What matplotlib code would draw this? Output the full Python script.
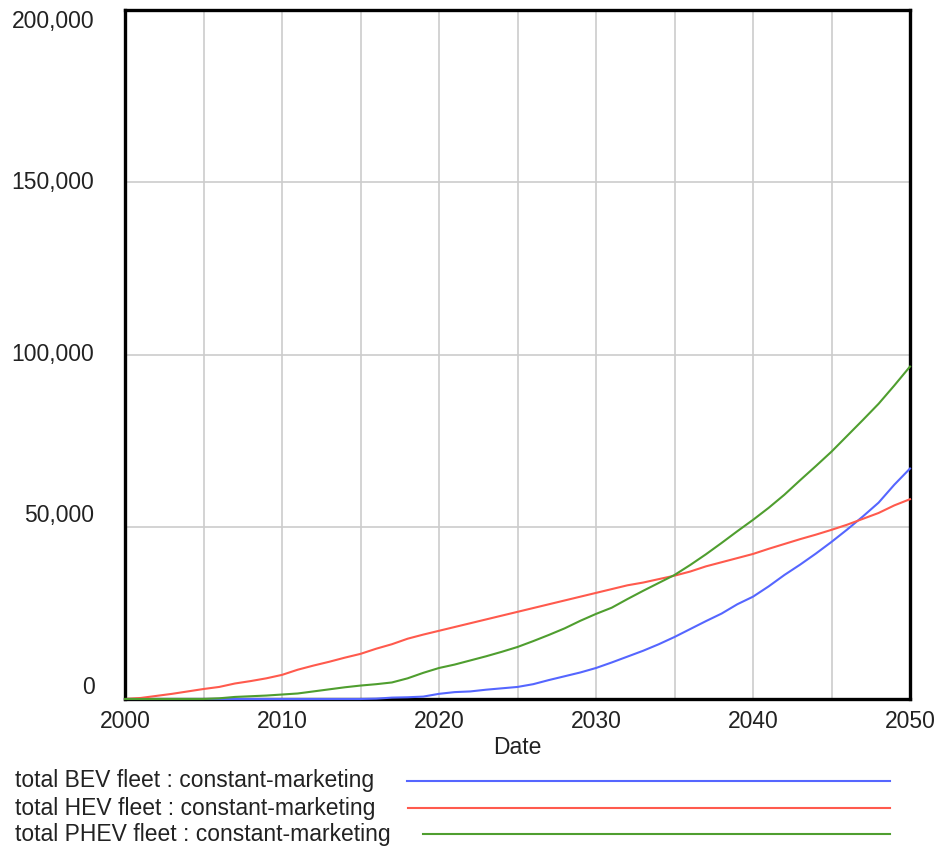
import matplotlib
matplotlib.use("Agg")
import matplotlib.pyplot as plt
from matplotlib.lines import Line2D

plt.rcParams["font.family"] = ["Liberation Sans", "DejaVu Sans"]

years = list(range(2000, 2051))

bev_fleet = [0, 0, 0, 0, 0, 0, 0, 0, 0, 0,
             0, 0, 0, 0, 0, 0, 100, 400, 500, 700,
             1500, 2000, 2200, 2700, 3100, 3500, 4300, 5500, 6600, 7700,
             9000, 10600, 12300, 14000, 15900, 18000, 20300, 22600, 24800, 27500,
             29700, 32700, 36000, 39000, 42200, 45600, 49200, 53000, 57000, 62200,
             66900]

hev_fleet = [0, 300, 900, 1500, 2200, 2900, 3500, 4500, 5200, 6000,
             7000, 8500, 9700, 10800, 12000, 13100, 14600, 15900, 17500, 18700,
             19800, 20900, 22000, 23100, 24200, 25300, 26400, 27500, 28600, 29700,
             30800, 31900, 33000, 33800, 34800, 35800, 37000, 38500, 39700, 40900,
             42100, 43600, 45000, 46400, 47700, 49100, 50600, 52300, 54000, 56200,
             58000]

phev_fleet = [0, 0, 0, 0, 0, 0, 200, 600, 800, 1000,
              1300, 1600, 2200, 2800, 3400, 3900, 4300, 4800, 6000, 7600,
              9000, 10000, 11200, 12400, 13700, 15100, 16800, 18600, 20500, 22700,
              24700, 26500, 29000, 31400, 33700, 36000, 38900, 42000, 45300, 48700,
              52000, 55500, 59300, 63500, 67600, 71800, 76400, 81000, 85700, 91000,
              96500]

series_labels = [
    "total BEV fleet : constant-marketing",
    "total HEV fleet : constant-marketing",
    "total PHEV fleet : constant-marketing",
]
series_colors = ["#5566ff", "#ff5a4d", "#4f9e2f"]

x_ticks = list(range(2000, 2051, 5))
x_tick_labels = [str(y) if y % 10 == 0 else "" for y in x_ticks]
y_ticks = [0, 50000, 100000, 150000, 200000]
y_tick_labels = ["0", "50,000", "100,000", "150,000", "200,000"]

W, H = 944, 850
fig = plt.figure(figsize=(W / 100, H / 100), dpi=100)
ax = fig.add_axes([125 / W, (H - 699) / H, 785 / W, 689 / H])

fs = 16.5
text_color = "#222222"

for vals, color in zip([bev_fleet, hev_fleet, phev_fleet], series_colors):
    ax.plot(years, vals, color=color, lw=1.5, zorder=3, clip_on=False)

ax.set_xlim(2000, 2050)
ax.set_ylim(0, 200000)
ax.set_xticks(x_ticks)
ax.set_xticklabels(x_tick_labels, fontsize=fs, color=text_color)
ax.set_yticks(y_ticks)
ax.set_yticklabels(y_tick_labels, fontsize=fs, color=text_color)
ax.tick_params(axis="both", length=0)
ax.tick_params(axis="x", pad=8)
ax.tick_params(axis="y", pad=22)

for lbl, v in zip(ax.get_yticklabels(), y_ticks):
    if v == 200000:
        lbl.set_va("top")
    elif v in (0, 50000):
        lbl.set_va("bottom")
    else:
        lbl.set_va("center")

ax.grid(True, color="#cccccc", lw=1.2)
ax.set_axisbelow(True)
for sp in ax.spines.values():
    sp.set_linewidth(2.4)
    sp.set_color("black")

ax.set_xlabel("Date", fontsize=fs, color=text_color, labelpad=2)

# legend rows below the plot
rows_y = [781, 808, 834]
line_starts = [407, 408, 423]
for label, color, yy, xs in zip(series_labels, series_colors, rows_y, line_starts):
    fig.text(15 / W, 1 - yy / H, label, fontsize=fs, color=text_color,
             ha="left", va="center")
    fig.add_artist(Line2D([xs / W, 890 / W], [1 - yy / H, 1 - yy / H],
                          color=color, lw=1.5))

fig.savefig("out.png", dpi=100)
